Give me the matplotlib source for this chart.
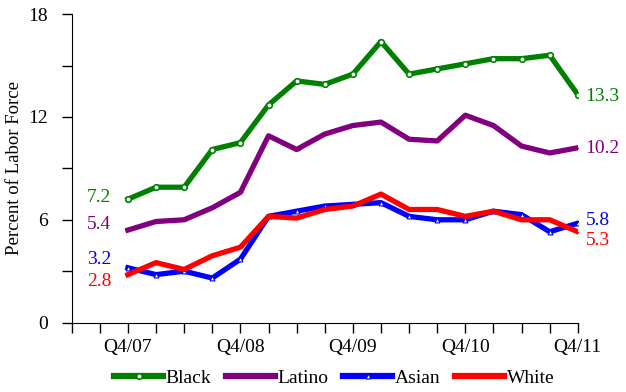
import matplotlib
matplotlib.use("Agg")
import matplotlib.pyplot as plt

quarters = ["Q4/07", "Q1/08", "Q2/08", "Q3/08", "Q4/08", "Q1/09", "Q2/09", "Q3/09", "Q4/09",
            "Q1/10", "Q2/10", "Q3/10", "Q4/10", "Q1/11", "Q2/11", "Q3/11", "Q4/11"]
black = [7.2, 7.9, 7.9, 10.1, 10.5, 12.7, 14.1, 13.9, 14.5, 16.4, 14.5, 14.8, 15.1, 15.4, 15.4, 15.6, 13.3]
latino = [5.4, 5.9, 6.0, 6.7, 7.6, 10.9, 10.1, 11.0, 11.5, 11.7, 10.7, 10.6, 12.1, 11.5, 10.3, 9.9, 10.2]
asian = [3.2, 2.8, 3.0, 2.6, 3.7, 6.2, 6.5, 6.8, 6.9, 7.0, 6.2, 6.0, 6.0, 6.5, 6.3, 5.3, 5.8]
white = [2.8, 3.5, 3.1, 3.9, 4.4, 6.2, 6.1, 6.6, 6.8, 7.5, 6.6, 6.6, 6.2, 6.5, 6.0, 6.0, 5.3]
start_labels = ["7.2", "5.4", "3.2", "2.8"]
end_labels = ["13.3", "10.2", "5.8", "5.3"]
tick_labels = ["Q4/07", "Q4/08", "Q4/09", "Q4/10", "Q4/11"]

plt.rcParams['font.family'] = ['Liberation Serif', 'DejaVu Serif']

fig = plt.figure(figsize=(6.26, 3.92), dpi=100)
ax = fig.add_axes([0.1145, 0.177, 0.8085, 0.787])

x = list(range(2, 2 + len(quarters)))
green, purple, blue, red = "#008000", "#800080", "#0000ff", "#ff0000"

ax.plot(x, black, color=green, lw=3.8, marker='o', ms=4, mfc='white', mec=green, mew=1.2,
        label="Black", zorder=4, solid_joinstyle='round')
ax.plot(x, latino, color=purple, lw=3.8, marker='_', ms=4, mec=purple,
        label="Latino", zorder=3, solid_joinstyle='round')
ax.plot(x, asian, color=blue, lw=3.8, marker='^', ms=3.5, mfc='white', mec=blue, mew=0.8,
        label="Asian", zorder=2, solid_joinstyle='round')
ax.plot(x, white, color=red, lw=3.8, marker='_', ms=4, mec=red,
        label="White", zorder=3, solid_joinstyle='round')

colors = [green, purple, blue, red]
start_y = [7.28, 5.7, 3.66, 2.4]
end_y = [13.2, 10.15, 5.95, 4.8]
for c, lab_s, lab_e, sy, ey in zip(colors, start_labels, end_labels, start_y, end_y):
    ax.text(1.4, sy, lab_s, color=c, fontsize=14, ha='right', va='center')
    ax.text(18.27, ey, lab_e, color=c, fontsize=14, ha='left', va='center', clip_on=False)

ax.set_xlim(0, 18)
ax.set_ylim(0, 18)
ax.set_xticks(range(0, 19))
ax.set_xticklabels(["" if (k - 2) % 4 or k < 2 else tick_labels[(k - 2) // 4] for k in range(0, 19)])
ax.set_yticks(range(0, 19, 3))
ax.set_yticklabels([str(v) if v % 6 == 0 else "" for v in range(0, 19, 3)])
ax.tick_params(direction='out', length=7, width=1, labelsize=14, pad=4)
ax.tick_params(axis='y', pad=10)
ax.tick_params(axis='x', pad=5)
for sp in ['top', 'right']:
    ax.spines[sp].set_visible(False)
ax.set_ylabel("Percent of Labor Force", fontsize=13.5, labelpad=4)

leg = fig.legend(loc='center', bbox_to_anchor=(0.534, 0.036), ncol=4, frameon=False,
                 fontsize=14, handlelength=2.5, handletextpad=0.15, columnspacing=0.75)
for h in leg.get_lines():
    h.set_linewidth(4.5)

fig.savefig("out.png", dpi=100)
